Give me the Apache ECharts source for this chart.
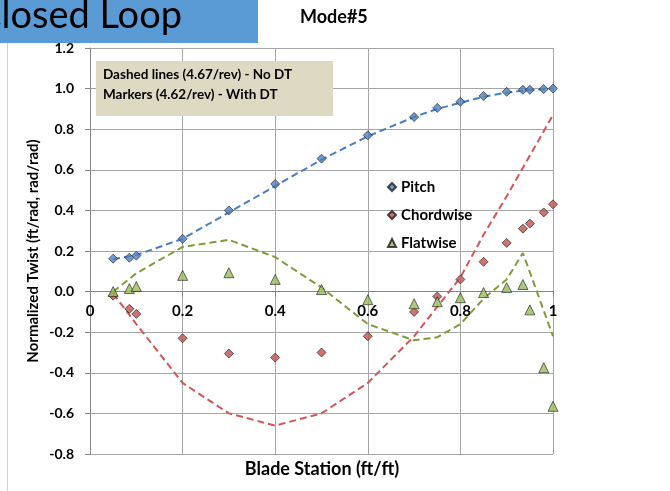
<!DOCTYPE html>
<html>
<head>
<meta charset="utf-8">
<script src="https://cdn.jsdelivr.net/npm/echarts@6/dist/echarts.min.js"></script>
<style>
  html, body { margin: 0; padding: 0; background: #fff; }
  #chart { width: 670px; height: 491px; }
</style>
</head>
<body>
<div id="chart"></div>
<script>
// Blade stations where the "With DT" results were evaluated (markers)
const markerStations = [0.05, 0.085, 0.1, 0.2, 0.3, 0.4, 0.5, 0.6, 0.7, 0.75, 0.8, 0.85, 0.9, 0.935, 0.95, 0.98, 1.0];
const pitchMarkers = [0.162, 0.167, 0.177, 0.26, 0.40, 0.53, 0.655, 0.77, 0.86, 0.905, 0.935, 0.964, 0.984, 0.994, 0.994, 0.998, 1.0];
const chordMarkers = [-0.02, -0.085, -0.11, -0.23, -0.305, -0.325, -0.30, -0.22, -0.10, -0.024, 0.06, 0.147, 0.24, 0.31, 0.335, 0.39, 0.43];
const flatMarkers = [0.0, 0.015, 0.025, 0.08, 0.093, 0.06, 0.01, -0.04, -0.06, -0.05, -0.03, -0.005, 0.02, 0.035, -0.09, -0.375, -0.565];

// Blade stations for the "No DT" results (dashed lines)
const lineStations = [0.05, 0.1, 0.2, 0.3, 0.4, 0.5, 0.6, 0.7, 0.75, 0.8, 0.85, 0.9, 0.935, 1.0];
const pitchLine = [0.16, 0.18, 0.26, 0.39, 0.52, 0.65, 0.765, 0.86, 0.90, 0.93, 0.96, 0.98, 0.99, 1.0];
const chordLine = [-0.01, -0.16, -0.45, -0.60, -0.66, -0.60, -0.45, -0.22, -0.075, 0.07, 0.28, 0.47, 0.61, 0.87];
const flatLine = [0.0, 0.09, 0.22, 0.255, 0.17, 0.02, -0.16, -0.24, -0.225, -0.16, -0.035, 0.06, 0.19, -0.22];

const seriesNames = ['Pitch', 'Chordwise', 'Flatwise'];
const xTicks = [0, 0.2, 0.4, 0.6, 0.8, 1];
const yTicks = [-0.8, -0.6, -0.4, -0.2, 0.0, 0.2, 0.4, 0.6, 0.8, 1.0, 1.2];

const FONT = 'Lato, "Open Sans", sans-serif';
const markerColors = ['#4F81BD', '#C0504D', '#9BBB59'];
const lineColors = ['#4A7EC4', '#D45555', '#7F9C3A'];
const symbols = ['diamond', 'diamond', 'triangle'];

const pair = (xs, ys) => xs.map((x, i) => [x, ys[i]]);
const markerSets = [pitchMarkers, chordMarkers, flatMarkers];
const lineSets = [pitchLine, chordLine, flatLine];

const series = [];
lineSets.forEach((ys, i) => {
  series.push({
    name: seriesNames[i] + ' (No DT)',
    type: 'line',
    data: pair(lineStations, ys),
    symbol: 'none',
    lineStyle: { color: lineColors[i], width: 2, type: [7, 4] },
    z: 2,
    silent: true
  });
});
markerSets.forEach((ys, i) => {
  series.push({
    name: seriesNames[i],
    type: 'scatter',
    data: pair(markerStations, ys),
    symbol: symbols[i],
    symbolSize: i === 2 ? 10 : 9,
    itemStyle: { color: markerColors[i], borderColor: '#1b1b1b', borderWidth: 0.8 },
    z: 3
  });
});

const chart = echarts.init(document.getElementById('chart'));
chart.setOption({
  animation: false,
  backgroundColor: '#ffffff',
  grid: { left: 90, right: 117, top: 48, bottom: 37, containLabel: false },
  xAxis: {
    type: 'value',
    min: xTicks[0],
    max: xTicks[xTicks.length - 1],
    interval: 0.2,
    axisLine: { show: true, onZero: false, lineStyle: { color: '#868686', width: 1 } },
    axisTick: { show: true, length: 5, lineStyle: { color: '#868686' } },
    axisLabel: { margin: 12, fontFamily: FONT, fontWeight: 'bold', fontSize: 15, color: '#000' },
    splitLine: { show: true, lineStyle: { color: '#A6A6A6', width: 1 } }
  },
  yAxis: {
    type: 'value',
    min: yTicks[0],
    max: yTicks[yTicks.length - 1],
    interval: 0.2,
    axisLine: { show: true, onZero: false, lineStyle: { color: '#868686', width: 1 } },
    axisTick: { show: true, length: 5, lineStyle: { color: '#868686' } },
    axisLabel: {
      margin: 16, fontFamily: FONT, fontWeight: 'bold', fontSize: 14, color: '#000',
      formatter: v => v.toFixed(1)
    },
    splitLine: { show: true, lineStyle: { color: '#A6A6A6', width: 1 } }
  },
  legend: {
    data: seriesNames,
    orient: 'vertical',
    left: 382,
    top: 174,
    itemWidth: 8,
    itemHeight: 8,
    itemGap: 12,
    textStyle: { fontFamily: FONT, fontWeight: 'bold', fontSize: 15, color: '#000', lineHeight: 16 }
  },
  graphic: [
    // slide edge line
    { type: 'rect', shape: { x: 7, y: 42, width: 1, height: 460 }, style: { fill: '#D0D0D0' }, z: 0 },
    // slide title banner
    { type: 'rect', shape: { x: 0, y: 0, width: 258, height: 43 }, style: { fill: '#5B9BD5' }, z: 10 },
    {
      type: 'text', x: 182, y: 35, z: 11,
      style: { text: 'Closed Loop', fill: '#000', font: '38px ' + FONT, textAlign: 'right', textVerticalAlign: 'bottom' }
    },
    // chart title
    {
      type: 'text', x: 300, y: 17, z: 11,
      style: { text: 'Mode#5', fill: '#000', font: 'bold 18px ' + FONT, textAlign: 'left', textVerticalAlign: 'middle' }
    },
    // annotation box
    { type: 'rect', shape: { x: 96, y: 61, width: 237, height: 55 }, style: { fill: '#DDD9C3' }, z: 10 },
    {
      type: 'text', x: 103, y: 75, z: 11,
      style: { text: 'Dashed lines (4.67/rev) - No DT', fill: '#000', font: 'bold 13.5px ' + FONT, textVerticalAlign: 'middle' }
    },
    {
      type: 'text', x: 103, y: 95, z: 11,
      style: { text: 'Markers (4.62/rev) - With DT', fill: '#000', font: 'bold 13.5px ' + FONT, textVerticalAlign: 'middle' }
    },
    // axis titles
    {
      type: 'text', x: 322, y: 469, z: 11,
      style: { text: 'Blade Station (ft/ft)', fill: '#000', font: 'bold 18px ' + FONT, textAlign: 'center', textVerticalAlign: 'middle' }
    },
    {
      type: 'text', x: 33, y: 251, rotation: Math.PI / 2, z: 11,
      style: { text: 'Normalized Twist (ft/rad, rad/rad)', fill: '#000', font: 'bold 15px ' + FONT, textAlign: 'center', textVerticalAlign: 'middle' }
    }
  ],
  series: series
});

// The horizontal axis crosses the vertical one at zero: shift it up from the grid bottom.
const yZero = chart.convertToPixel({ yAxisIndex: 0 }, 0);
const yBottom = chart.convertToPixel({ yAxisIndex: 0 }, yTicks[0]);
chart.setOption({ xAxis: { offset: -(yBottom - yZero) } });
</script>
</body>
</html>
